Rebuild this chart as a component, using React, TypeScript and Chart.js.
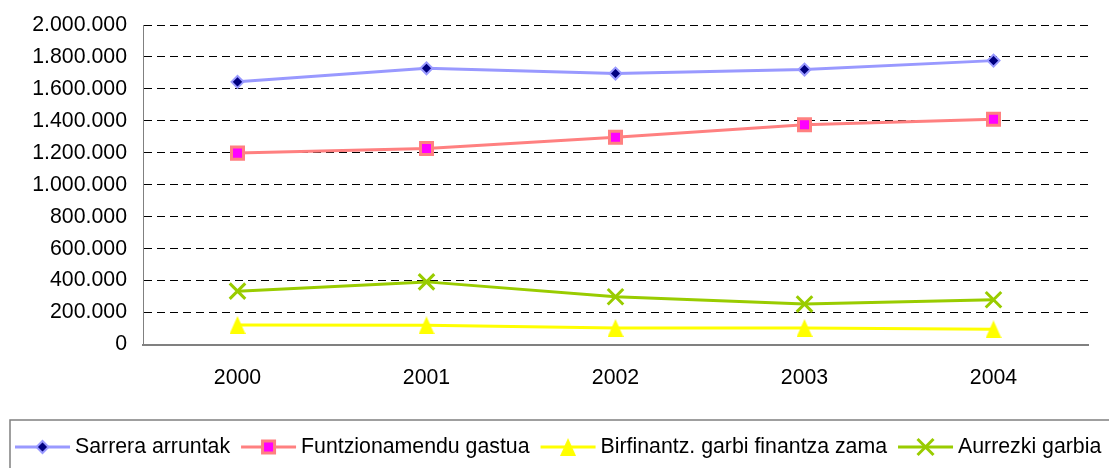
import React, { useEffect, useRef } from "react";
import { Chart, registerables } from "chart.js";

Chart.register(...registerables);

const years = ["2000", "2001", "2002", "2003", "2004"];
const sarreraArruntak = [1644000, 1729000, 1696000, 1721000, 1777000];
const funtzionamenduGastua = [1198000, 1227000, 1298000, 1375000, 1410000];
const birfinantzGarbi = [122000, 120000, 103000, 103000, 95000];
const aurrezkiGarbia = [334000, 392000, 299000, 253000, 280000];
const seriesNames = [
  "Sarrera arruntak",
  "Funtzionamendu gastua",
  "Birfinantz. garbi finantza zama",
  "Aurrezki garbia",
];
const yMin = 0;
const yMax = 2000000;
const yStep = 200000;

const FONT = '"Liberation Sans", Arial, sans-serif';
const FSIZE = 21.3;

function fmt(v: number): string {
  return String(Math.round(v)).replace(/\B(?=(\d{3})+(?!\d))/g, ".");
}

function makeTriangle(): HTMLCanvasElement {
  const c = document.createElement("canvas");
  c.width = 16;
  c.height = 18;
  const g = c.getContext("2d")!;
  g.fillStyle = "#FFFF00";
  g.beginPath();
  g.moveTo(8, 0);
  g.lineTo(16, 18);
  g.lineTo(0, 18);
  g.closePath();
  g.fill();
  return c;
}

function drawMarker(ctx: CanvasRenderingContext2D, kind: number, x: number, y: number, tri: HTMLCanvasElement) {
  ctx.save();
  if (kind === 0) {
    const r = 6;
    ctx.beginPath();
    ctx.moveTo(x, y - r);
    ctx.lineTo(x + r, y);
    ctx.lineTo(x, y + r);
    ctx.lineTo(x - r, y);
    ctx.closePath();
    ctx.fillStyle = "#000080";
    ctx.fill();
    ctx.strokeStyle = "#9999FF";
    ctx.lineWidth = 2;
    ctx.stroke();
  } else if (kind === 1) {
    const h = 6;
    ctx.fillStyle = "#FF00FF";
    ctx.fillRect(x - h, y - h, 2 * h, 2 * h);
    ctx.strokeStyle = "#FF8080";
    ctx.lineWidth = 3;
    ctx.strokeRect(x - h, y - h, 2 * h, 2 * h);
  } else if (kind === 2) {
    ctx.drawImage(tri, x - tri.width / 2, y - tri.height / 2);
  } else {
    const d = 8;
    ctx.strokeStyle = "#99CC00";
    ctx.lineWidth = 3;
    ctx.beginPath();
    ctx.moveTo(x - d, y - d);
    ctx.lineTo(x + d, y + d);
    ctx.moveTo(x + d, y - d);
    ctx.lineTo(x - d, y + d);
    ctx.stroke();
  }
  ctx.restore();
}

export default function App() {
  const ref = useRef<HTMLCanvasElement | null>(null);

  useEffect(() => {
    if (!ref.current) return;
    const tri = makeTriangle();

    const legendPlugin = {
      id: "customLegend",
      afterDraw(chart: any) {
        const ctx: CanvasRenderingContext2D = chart.ctx;
        ctx.save();
        ctx.strokeStyle = "#808080";
        ctx.lineWidth = 1.5;
        ctx.strokeRect(10, 420, 1200, 100);
        ctx.font = FSIZE + "px " + FONT;
        ctx.textBaseline = "middle";
        ctx.textAlign = "left";
        let x = 15;
        const y = 447;
        chart.data.datasets.forEach((ds: any, i: number) => {
          ctx.strokeStyle = ds.borderColor;
          ctx.lineWidth = 3;
          ctx.beginPath();
          ctx.moveTo(x, y);
          ctx.lineTo(x + 55, y);
          ctx.stroke();
          drawMarker(ctx, i, x + 27.5, y, tri);
          ctx.fillStyle = "#000";
          ctx.fillText(ds.label, x + 60, y);
          x += 60 + ctx.measureText(ds.label).width + 11;
        });
        ctx.restore();
      },
    };

    const chart = new Chart(ref.current, {
      type: "line",
      data: {
        labels: years,
        datasets: [
          {
            label: seriesNames[0],
            data: sarreraArruntak,
            borderColor: "#9999FF",
            borderWidth: 3,
            pointStyle: "rectRot",
            pointRadius: 6,
            pointBackgroundColor: "#000080",
            pointBorderColor: "#9999FF",
            pointBorderWidth: 2,
            tension: 0,
          },
          {
            label: seriesNames[1],
            data: funtzionamenduGastua,
            borderColor: "#FF8080",
            borderWidth: 3,
            pointStyle: "rect",
            pointRadius: 8.5,
            pointBackgroundColor: "#FF00FF",
            pointBorderColor: "#FF8080",
            pointBorderWidth: 3,
            tension: 0,
          },
          {
            label: seriesNames[2],
            data: birfinantzGarbi,
            borderColor: "#FFFF00",
            borderWidth: 3,
            pointStyle: tri as any,
            pointRadius: 8,
            pointBackgroundColor: "#FFFF00",
            pointBorderColor: "#FFFF00",
            tension: 0,
          },
          {
            label: seriesNames[3],
            data: aurrezkiGarbia,
            borderColor: "#99CC00",
            borderWidth: 3,
            pointStyle: "crossRot",
            pointRadius: 11,
            pointBackgroundColor: "#99CC00",
            pointBorderColor: "#99CC00",
            pointBorderWidth: 3,
            tension: 0,
          },
        ],
      },
      options: {
        responsive: false,
        animation: false,
        devicePixelRatio: 1,
        layout: { padding: { top: 25, right: 21, bottom: 0, left: 0 } },
        plugins: {
          legend: { display: false },
          tooltip: { enabled: false },
        },
        scales: {
          x: {
            type: "category",
            offset: true,
            grid: { display: false, drawOnChartArea: false, drawTicks: false },
            border: { display: true, color: "#808080", width: 2 },
            ticks: {
              color: "#000",
              font: { family: FONT, size: FSIZE },
              padding: 21,
              maxRotation: 0,
            },
            afterFit(scale: any) {
              scale.height = 123.5;
              scale.paddingLeft = 0;
              scale.paddingRight = 0;
            },
          },
          y: {
            min: yMin,
            max: yMax,
            grid: {
              drawTicks: false,
              color: (c: any) => (c.tick && c.tick.value === 0 ? "rgba(0,0,0,0)" : "#000"),
              lineWidth: 1,
            },
            border: { display: true, color: "#808080", width: 1, dash: [8, 5] },
            ticks: {
              stepSize: yStep,
              color: "#000",
              font: { family: FONT, size: FSIZE },
              padding: 16,
              callback: (v: any) => fmt(Number(v)),
            },
            afterFit(scale: any) {
              scale.width = 143;
              scale.paddingTop = 0;
              scale.paddingBottom = 0;
            },
          },
        },
      },
      plugins: [legendPlugin],
    });
    return () => chart.destroy();
  }, []);

  return (
    <div style={{ position: "absolute", left: 0, top: 0, width: 1109, height: 468, background: "#fff" }}>
      <canvas ref={ref} width={1109} height={468} style={{ display: "block" }} />
    </div>
  );
}
